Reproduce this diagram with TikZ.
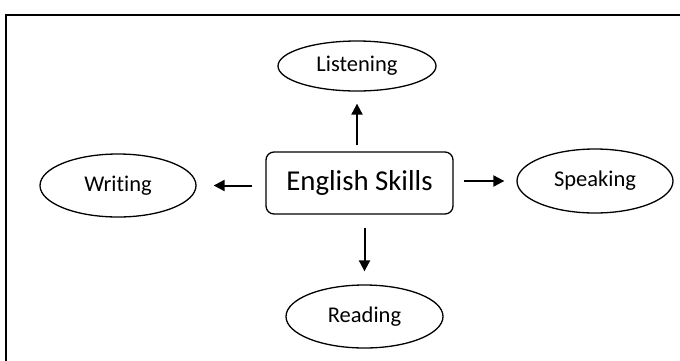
\documentclass[tikz,border=0pt]{standalone}
\usepackage{fontspec}
\setmainfont{Carlito}[Ligatures=NoCommon]
\usetikzlibrary{shapes.geometric,arrows.meta}
\begin{document}
\begin{tikzpicture}[x=0.5pt,y=-0.5pt,
  oval/.style={draw,ellipse,line width=0.65pt,inner sep=0pt,font=\fontsize{11.25}{13}\selectfont},
  mainbox/.style={draw,rounded corners=4pt,line width=0.65pt,inner sep=0pt,font=\fontsize{14.4}{17}\selectfont},
  arr/.style={-{Triangle[length=5.5pt,width=5.5pt]},line width=1pt}]
\useasboundingbox (0,0) rectangle (680,360);
\draw[line width=1.1pt] (6,370) -- (6,15) -- (690,15);
\node[mainbox,minimum width=93.5pt,minimum height=31pt] (c) at (359.5,183) {English Skills};
\node[oval,minimum width=79pt,minimum height=25pt] (l) at (357,66) {Listening};
\node[oval,minimum width=78pt,minimum height=32pt] (s) at (595,181) {Speaking};
\node[oval,minimum width=78pt,minimum height=31.5pt] (w) at (118,185.5) {Writing};
\node[oval,minimum width=78.5pt,minimum height=31.5pt] (r) at (364.5,316.5) {Reading};
\draw[arr,shorten <=3pt,shorten >=6pt] (c.north -| l.south) -- (l.south);
\draw[arr,shorten <=5pt,shorten >=6pt] (c.east |- s.west) -- (s.west);
\draw[arr,shorten <=6.5pt,shorten >=8.5pt] (c.west |- w.east) -- (w.east);
\draw[arr,shorten <=6.5pt,shorten >=6.5pt] (c.south -| r.north) -- (r.north);
\end{tikzpicture}
\end{document}
